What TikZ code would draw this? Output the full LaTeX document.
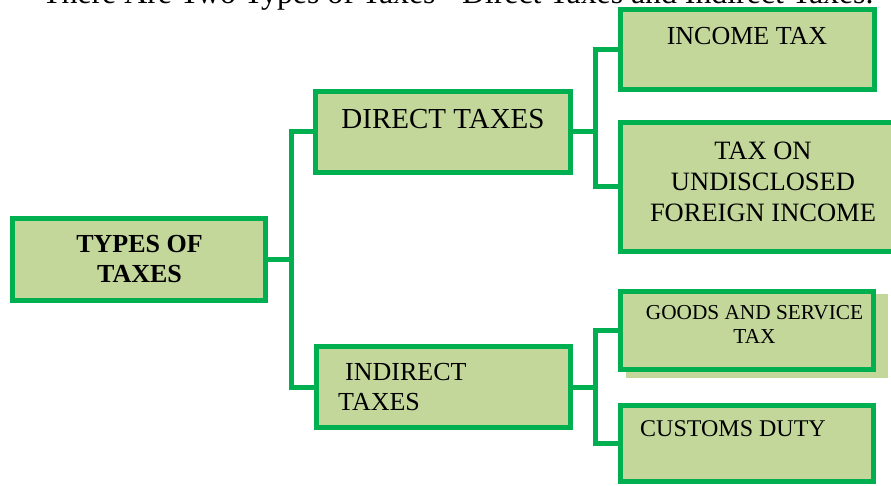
\documentclass[tikz,border=0pt]{standalone}
\usepackage{fontspec}
\setmainfont{Liberation Serif}
\definecolor{boxfill}{HTML}{C4D79B}
\definecolor{boxline}{HTML}{00B050}
\tikzset{
  taxbox/.style={draw=boxline, fill=boxfill, line width=5pt, rectangle, inner sep=0pt},
  conn/.style={draw=boxline, line width=5pt},
  lbl/.style={inner sep=0pt, text=black},
}
\begin{document}
\begin{tikzpicture}[x=1pt,y=-1pt]
\useasboundingbox (0,0) rectangle (891,486);
\clip (0,0) rectangle (891,486);
\fill[white] (0,0) rectangle (891,486);
% title (cut off at top, as in the reference)
\node[lbl, anchor=base west, font=\fontsize{31.8}{34}\selectfont] (title) at (42,4) {There Are Two Types of Taxes - Direct Taxes and Indirect Taxes.};
% junction coordinates
\coordinate (j1) at (291,259.5);
\coordinate (j2) at (595,132);
\coordinate (j3) at (595,387);
% boxes
\node[taxbox, minimum width=253pt, minimum height=82pt] (types) at (139,259.5) {};
\node[taxbox, minimum width=255pt, minimum height=81pt] (direct) at (443,132) {};
\node[taxbox, minimum width=254pt, minimum height=81pt] (indirect) at (443.5,387) {};
\node[taxbox, minimum width=254pt, minimum height=80pt] (income) at (747.5,49.5) {};
\node[taxbox, minimum width=285pt, minimum height=129pt] (undisc) at (763,187) {};
\fill[boxfill] (626,294) rectangle (888,378);
\node[taxbox, minimum width=253pt, minimum height=78pt] (gst) at (747,330) {};
\node[taxbox, minimum width=253pt, minimum height=76pt] (customs) at (747,443.5) {};
% connectors
\draw[conn] (types.east) -- (j1);
\draw[conn] (j1) |- (direct.west);
\draw[conn] (j1) |- (indirect.west);
\draw[conn] (direct.east) -- (j2);
\draw[conn] (j2) |- (income.west);
\draw[conn] (j2) |- (undisc.west);
\draw[conn] (indirect.east) -- (j3);
\draw[conn] (j3) |- (gst.west);
\draw[conn] (j3) |- (customs.west);
% labels
\node[lbl, anchor=north, align=center, font=\bfseries\fontsize{26}{30}\selectfont] (typesT) at (139.5,235) {TYPES OF\\TAXES};
\node[lbl, anchor=base, font=\fontsize{29}{32}\selectfont] (directT) at (443,129) {DIRECT TAXES};
\node[lbl, anchor=north west, align=left, font=\fontsize{26}{30}\selectfont] (indirectT) at (338,363) {\hspace*{7pt}INDIRECT\\TAXES};
\node[lbl, anchor=base, font=\fontsize{26}{30}\selectfont] (incomeT) at (747,45) {INCOME TAX};
\node[lbl, anchor=north, align=center, font=\fontsize{26.5}{31}\selectfont] (undiscT) at (763,142) {TAX ON\\UNDISCLOSED\\FOREIGN INCOME};
\node[lbl, anchor=north, align=center, font=\fontsize{21.3}{24}\selectfont] (gstT) at (754.5,305) {GOODS AND SERVICE\\TAX};
\node[lbl, anchor=base west, font=\fontsize{24}{28}\selectfont] (customsT) at (640,436) {CUSTOMS DUTY};
\end{tikzpicture}
\end{document}
